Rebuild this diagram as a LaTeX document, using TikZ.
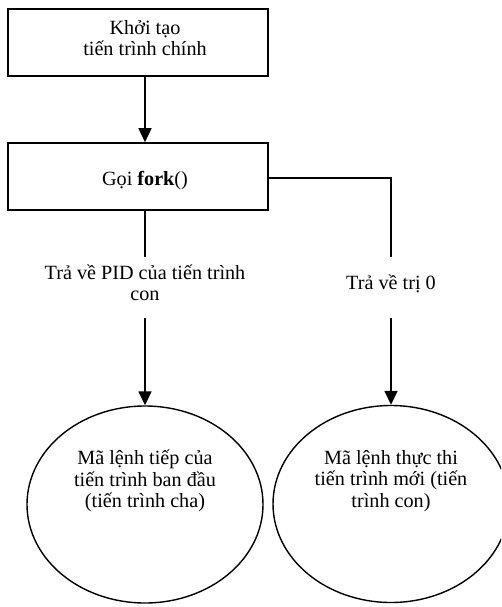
\documentclass[tikz,border=0pt]{standalone}
\usepackage{fontspec}
\setmainfont{Liberation Serif}
\usetikzlibrary{arrows.meta,shapes.geometric}
\begin{document}
\begin{tikzpicture}[x=1pt,y=-1pt,
  every node/.style={font=\fontsize{20.2}{21.5}\selectfont},
  box/.style={draw,line width=1.6pt,minimum width=260pt,minimum height=67pt,inner sep=0pt},
  oval/.style={draw,line width=1.4pt,ellipse,minimum width=236pt,minimum height=197pt,inner sep=0pt},
  txt/.style={align=center,inner sep=0pt},
  link/.style={line width=1.6pt},
  arr/.style={link,-{Triangle[width=13pt,length=14pt]}}]
\useasboundingbox (0,0) rectangle (501,607);
\clip (0,0) rectangle (501,607);
\node[box] (b1) at (138,42.5) {};
\node[txt] (t1) at (145,38) {Khởi tạo\\tiến trình chính};
\node[box] (b2) at (138,176.5) {};
\node[txt] (t2) at (145,181) {Gọi \textbf{fork}()};
\node[oval] (e1) at (145,504.5) {};
\node[oval] (e2) at (391,504) {};
\node[txt] (t3) at (145,481) {Mã lệnh tiếp của\\tiến trình ban đầu\\(tiến trình cha)};
\node[txt] (t4) at (391,481) {Mã lệnh thực thi\\tiến trình mới (tiến\\trình con)};
\node[txt] (l1) at (145,283) {Trả về PID của tiến trình\\con};
\node[txt] (l2) at (391,284) {Trả về trị 0};
\coordinate (a1) at (145,257);
\coordinate (a2) at (145,318);
\coordinate (c0) at (391,178);
\coordinate (c1) at (391,257);
\coordinate (c2) at (391,318);
\draw[arr] (b1.south -| t1) -- (b2.north -| t1);
\draw[link] (b2.south -| t1) -- (a1);
\draw[arr] (a2) -- (e1.north);
\draw[link] (b2.east |- c0) -- (c0) -- (c1);
\draw[arr] (c2) -- (e2.north);
\end{tikzpicture}
\end{document}
